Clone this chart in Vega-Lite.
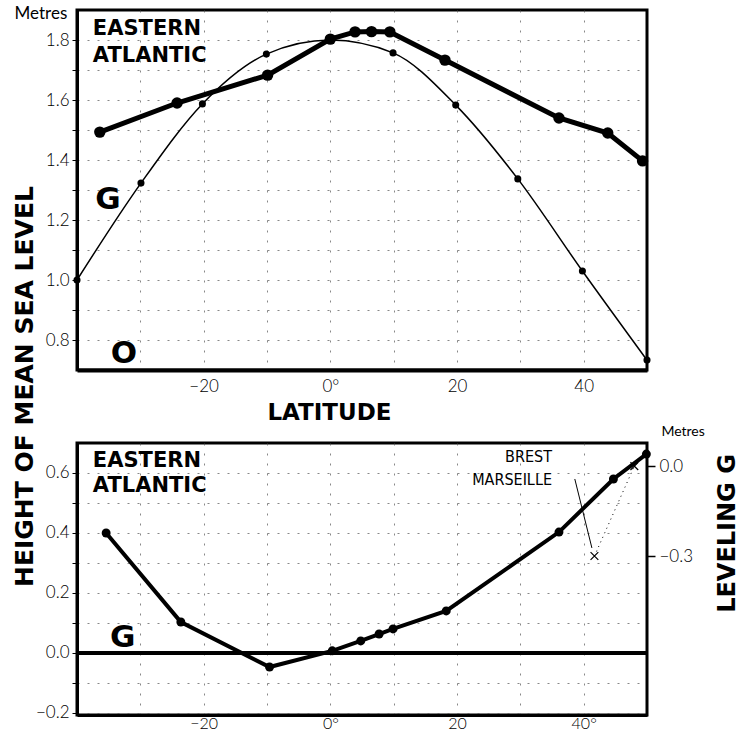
{
  "$schema": "https://vega.github.io/schema/vega-lite/v6.json",
  "padding": {"left": 10, "top": 3, "right": 0, "bottom": 0},
  "background": "white",
  "datasets": {
    "topThick": [
      {"lat": -36.4, "h": 1.493}, {"lat": -24.2, "h": 1.59}, {"lat": -9.9, "h": 1.683},
      {"lat": 0, "h": 1.803}, {"lat": 3.9, "h": 1.827}, {"lat": 6.5, "h": 1.828},
      {"lat": 9.4, "h": 1.827}, {"lat": 18.1, "h": 1.733}, {"lat": 36.1, "h": 1.54},
      {"lat": 43.8, "h": 1.49}, {"lat": 49.3, "h": 1.397}
    ],
    "topThin": [
      {"lat": -40, "h": 1.0}, {"lat": -29.9, "h": 1.323}, {"lat": -20.2, "h": 1.587},
      {"lat": -10.1, "h": 1.753}, {"lat": 0, "h": 1.80}, {"lat": 9.9, "h": 1.757},
      {"lat": 19.8, "h": 1.583}, {"lat": 29.6, "h": 1.337}, {"lat": 39.8, "h": 1.03},
      {"lat": 50, "h": 0.733}
    ],
    "botLine": [
      {"lat": -35.4, "h": 0.40}, {"lat": -23.6, "h": 0.103}, {"lat": -9.6, "h": -0.047},
      {"lat": 0.3, "h": 0.007}, {"lat": 4.8, "h": 0.04}, {"lat": 7.7, "h": 0.063},
      {"lat": 9.9, "h": 0.08}, {"lat": 18.3, "h": 0.14}, {"lat": 36.1, "h": 0.403},
      {"lat": 44.7, "h": 0.58}, {"lat": 49.9, "h": 0.663}
    ],
    "stations": [
      {"lat": 41.7, "lev": -0.3, "name": "MARSEILLE"},
      {"lat": 48.0, "lev": 0.0, "name": "BREST"}
    ],
    "stationLabels": [
      {"lat": 35.0, "h": 0.653, "text": "BREST"},
      {"lat": 35.0, "h": 0.577, "text": "MARSEILLE"}
    ],
    "pointer": [{"lat": 38.6, "h": 0.58, "lat2": 41.3, "h2": 0.35}],
    "topTitle": [
      {"lat": -37.5, "h": 1.817, "text": "EASTERN"},
      {"lat": -37.5, "h": 1.727, "text": "ATLANTIC"}
    ],
    "topLetters": [
      {"lat": -35.1, "h": 1.267, "text": "G"},
      {"lat": -32.6, "h": 0.753, "text": "O"}
    ],
    "topMetres": [{"lat": -45.7, "h": 1.887, "text": "Metres"}],
    "botTitle": [
      {"lat": -37.5, "h": 0.62, "text": "EASTERN"},
      {"lat": -37.5, "h": 0.537, "text": "ATLANTIC"}
    ],
    "botLetters": [{"lat": -32.8, "h": 0.05, "text": "G"}],
    "botMetres": [{"lat": 55.7, "h": 0.737, "text": "Metres"}]
  },
  "config": {
    "view": {"stroke": "black", "strokeWidth": 3},
    "axis": {
      "labelFont": "Lato", "labelFontWeight": 300, "labelFontSize": 17, "labelColor": "black",
      "domainColor": "black", "tickColor": "black",
      "gridColor": "#555", "gridDash": [2, 8], "gridOpacity": 0.7, "gridWidth": 1,
      "titleFont": "DejaVu Sans", "titleFontWeight": "bold", "titleColor": "black",
      "labelFlush": false, "labelOverlap": false
    },
    "text": {"color": "black"}
  },
  "bounds": "flush",
  "spacing": 73,
  "vconcat": [
    {
      "width": 570,
      "height": 360,
      "encoding": {
        "x": {
          "field": "lat", "type": "quantitative",
          "scale": {"domain": [-40, 50], "nice": false},
          "axis": {
            "values": [-30, -20, -10, 0, 10, 20, 30, 40],
            "labelExpr": "datum.value == -20 ? '−20' : datum.value == 0 ? '0°' : datum.value == 20 ? '20' : datum.value == 40 ? '40' : ''",
            "title": "LATITUDE", "titleFontSize": 23, "titleX": 252, "titleY": 31,
            "domainWidth": 4, "ticks": false, "labelPadding": 8, "grid": true
          }
        },
        "y": {
          "field": "h", "type": "quantitative",
          "scale": {"domain": [0.7, 1.9], "nice": false, "zero": false},
          "axis": {
            "values": [0.8, 0.9, 1.0, 1.1, 1.2, 1.3, 1.4, 1.5, 1.6, 1.7, 1.8],
            "labelExpr": "round(datum.value * 10) % 2 == 0 ? format(datum.value, '.1f') : ''",
            "title": "HEIGHT OF MEAN SEA LEVEL", "titleFontSize": 25,
            "titleX": -53, "titleY": 376, "titleAngle": 270,
            "titleAlign": "center", "titleBaseline": "middle",
            "domainWidth": 3, "tickSize": 5, "labelPadding": 3, "grid": true
          }
        }
      },
      "layer": [
        {
          "data": {"name": "topThin"},
          "mark": {"type": "line", "interpolate": "monotone", "color": "black", "strokeWidth": 1.5,
                   "point": {"filled": true, "color": "black", "size": 50}}
        },
        {
          "data": {"name": "topThick"},
          "mark": {"type": "line", "color": "black", "strokeWidth": 5,
                   "point": {"filled": true, "color": "black", "size": 130}}
        },
        {
          "data": {"name": "topTitle"},
          "mark": {"type": "text", "font": "DejaVu Sans", "fontWeight": "bold", "fontSize": 21,
                   "align": "left", "baseline": "alphabetic"},
          "encoding": {"text": {"field": "text"}}
        },
        {
          "data": {"name": "topLetters"},
          "mark": {"type": "text", "font": "DejaVu Sans", "fontWeight": "bold", "fontSize": 31,
                   "align": "center", "baseline": "middle"},
          "encoding": {"text": {"field": "text"}}
        },
        {
          "data": {"name": "topMetres"},
          "mark": {"type": "text", "font": "Lato", "fontSize": 17, "align": "center", "baseline": "middle"},
          "encoding": {"text": {"field": "text"}}
        }
      ]
    },
    {
      "width": 570,
      "height": 272,
      "resolve": {"scale": {"y": "independent"}, "axis": {"y": "independent"}},
      "layer": [
        {
          "encoding": {
            "x": {
              "field": "lat", "type": "quantitative",
              "scale": {"domain": [-40, 50], "nice": false},
              "axis": {
                "values": [-30, -20, -10, 0, 10, 20, 30, 40],
                "labelExpr": "datum.value == -20 ? '−20' : datum.value == 0 ? '0°' : datum.value == 20 ? '20' : datum.value == 40 ? '40°' : ''",
                "title": null, "domainWidth": 3, "ticks": false, "labelPadding": 0, "labelFontSize": 16, "grid": true
              }
            },
            "y": {
              "field": "h", "type": "quantitative",
              "scale": {"domain": [-0.207, 0.7], "nice": false, "zero": false},
              "axis": {
                "values": [-0.2, -0.1, 0, 0.1, 0.2, 0.3, 0.4, 0.5, 0.6],
                "labelExpr": "round(datum.value * 10) % 2 == 0 ? format(datum.value, '.1f') : ''",
                "title": null, "domainWidth": 3, "tickSize": 5, "labelPadding": 3, "grid": true
              }
            }
          },
          "layer": [
            {
              "data": {"name": "botLine"},
              "mark": {"type": "rule", "color": "black", "strokeWidth": 4},
              "encoding": {"y": {"datum": 0}, "x": {"value": 0}, "x2": {"value": 570}}
            },
            {
              "data": {"name": "botLine"},
              "mark": {"type": "line", "color": "black", "strokeWidth": 4,
                       "point": {"filled": true, "color": "black", "size": 80}}
            },
            {
              "data": {"name": "pointer"},
              "mark": {"type": "rule", "color": "black", "strokeWidth": 1},
              "encoding": {"x2": {"field": "lat2"}, "y2": {"field": "h2"}}
            },
            {
              "data": {"name": "stationLabels"},
              "mark": {"type": "text", "font": "Liberation Sans Narrow, DejaVu Sans Condensed, sans-serif",
                       "fontSize": 16, "align": "right", "baseline": "middle"},
              "encoding": {"text": {"field": "text"}}
            },
            {
              "data": {"name": "botTitle"},
              "mark": {"type": "text", "font": "DejaVu Sans", "fontWeight": "bold", "fontSize": 21,
                       "align": "left", "baseline": "alphabetic"},
              "encoding": {"text": {"field": "text"}}
            },
            {
              "data": {"name": "botLetters"},
              "mark": {"type": "text", "font": "DejaVu Sans", "fontWeight": "bold", "fontSize": 31,
                       "align": "center", "baseline": "middle"},
              "encoding": {"text": {"field": "text"}}
            },
            {
              "data": {"name": "botMetres"},
              "mark": {"type": "text", "font": "Lato", "fontSize": 14, "align": "center", "baseline": "middle"},
              "encoding": {"text": {"field": "text"}}
            }
          ]
        },
        {
          "data": {"name": "stations"},
          "encoding": {
            "x": {
              "field": "lat", "type": "quantitative",
              "scale": {"domain": [-40, 50], "nice": false},
              "axis": {
                "values": [-30, -20, -10, 0, 10, 20, 30, 40],
                "labelExpr": "datum.value == -20 ? '−20' : datum.value == 0 ? '0°' : datum.value == 20 ? '20' : datum.value == 40 ? '40°' : ''",
                "title": null, "domainWidth": 3, "ticks": false, "labelPadding": 0, "labelFontSize": 16, "grid": true
              }
            },
            "y": {
              "field": "lev", "type": "quantitative",
              "scale": {"domain": [-0.830, 0.077], "nice": false, "zero": false},
              "axis": {
                "orient": "right", "values": [0, -0.3],
                "labelExpr": "format(datum.value, '.1f')",
                "grid": false, "domain": false, "tickSize": 8, "tickWidth": 1.5, "labelPadding": 4,
                "title": "LEVELING   G", "titleFontSize": 24, "titleAngle": 270,
                "titleX": 80, "titleY": 90, "titleAlign": "center", "titleBaseline": "middle"
              }
            }
          },
          "layer": [
            {
              "mark": {"type": "line", "color": "black", "strokeWidth": 1, "strokeDash": [1, 4]}
            },
            {
              "mark": {"type": "point", "shape": "M-1,-1L1,1M-1,1L1,-1", "filled": false,
                       "color": "black", "strokeWidth": 1.2, "size": 60, "opacity": 1}
            }
          ]
        }
      ]
    }
  ]
}
